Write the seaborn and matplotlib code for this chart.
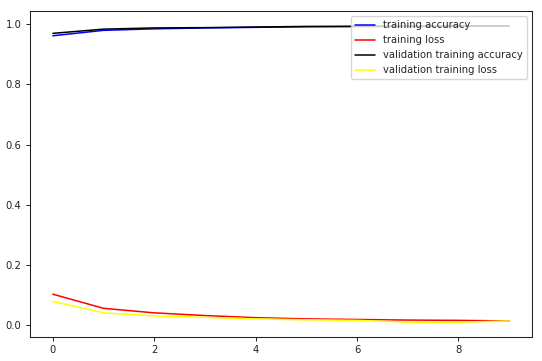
import matplotlib
matplotlib.use("Agg")
import matplotlib.pyplot as plt
import seaborn as sns

# values
epochs = list(range(10))
train_acc = [0.962, 0.980, 0.985, 0.988, 0.990, 0.992, 0.993, 0.994, 0.995, 0.995]
train_loss = [0.103, 0.056, 0.041, 0.032, 0.025, 0.021, 0.019, 0.017, 0.016, 0.014]
val_acc = [0.970, 0.984, 0.988, 0.989, 0.991, 0.993, 0.993, 0.993, 0.994, 0.994]
val_loss = [0.079, 0.041, 0.031, 0.026, 0.021, 0.018, 0.016, 0.010, 0.010, 0.014]

sns.set_style("ticks")
plt.rcParams["font.family"] = ["DejaVu Sans"]
plt.rcParams["axes.linewidth"] = 0.75
plt.rcParams["axes.edgecolor"] = "#222222"

fig, ax = plt.subplots(figsize=(5.42, 3.61), dpi=100)
lw = 1.1
sns.lineplot(x=epochs, y=train_acc, color="blue", label="training accuracy", lw=lw, ax=ax)
sns.lineplot(x=epochs, y=train_loss, color="red", label="training loss", lw=lw, ax=ax)
sns.lineplot(x=epochs, y=val_acc, color="black", label="validation training accuracy", lw=lw, ax=ax)
sns.lineplot(x=epochs, y=val_loss, color="yellow", label="validation training loss", lw=lw, ax=ax)

ax.set_xticks([0, 2, 4, 6, 8])
ax.set_yticks([0.0, 0.2, 0.4, 0.6, 0.8, 1.0])
ax.tick_params(labelsize=7.2, length=2.6, width=0.7, colors="#222222", labelcolor="#222222")
ax.legend(loc="upper right", fontsize=7.2)
fig.subplots_adjust(left=0.0554, right=0.9815, bottom=0.0665, top=0.9695)
fig.savefig("out.png")
